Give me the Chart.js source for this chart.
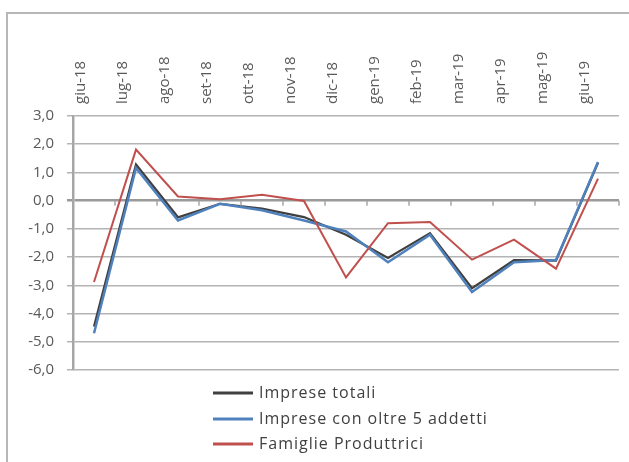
<!DOCTYPE html>
<html>
<head>
<meta charset="utf-8">
<script src="https://cdn.jsdelivr.net/npm/chart.js@4.4.0/dist/chart.umd.min.js"></script>
<style>
  html, body { margin: 0; padding: 0; background: #fff; overflow: hidden; }
  #frame { position: absolute; left: 6px; top: 12px; width: 640px; height: 480px; border: 2px solid #b7b7b7; }
  #wrap { position: absolute; left: 0; top: 0; width: 629px; height: 462px; }
</style>
</head>
<body>
<div id="frame"></div>
<div id="wrap"><canvas id="chart" width="629" height="462"></canvas></div>
<script>
const months = ['giu-18','lug-18','ago-18','set-18','ott-18','nov-18','dic-18','gen-19','feb-19','mar-19','apr-19','mag-19','giu-19'];
const impreseTotali = [-4.46, 1.28, -0.59, -0.11, -0.28, -0.58, -1.21, -2.03, -1.15, -3.10, -2.11, -2.12, 1.34];
const impreseOltre5 = [-4.70, 1.16, -0.70, -0.11, -0.34, -0.70, -1.09, -2.18, -1.21, -3.24, -2.18, -2.10, 1.37];
const famiglie      = [-2.88, 1.81, 0.15, 0.05, 0.21, -0.01, -2.72, -0.80, -0.76, -2.09, -1.38, -2.41, 0.78];
const yTicks = [3, 2, 1, 0, -1, -2, -3, -4, -5, -6];

const fontFamily = "'Open Sans', 'Liberation Sans', sans-serif";
const textColor = '#595959';

// small tick marks on the zero line between categories
const zeroTicks = {
  id: 'zeroTicks',
  afterDatasetsDraw(chart) {
    const { ctx } = chart;
    const x = chart.scales.x, y = chart.scales.y;
    const y0 = y.getPixelForValue(0);
    const half = (x.getPixelForValue(1) - x.getPixelForValue(0)) / 2;
    ctx.save();
    ctx.strokeStyle = '#a6a6a6';
    ctx.lineWidth = 1.5;
    for (let i = 0; i < months.length; i++) {
      const px = x.getPixelForValue(i) + half;
      ctx.beginPath();
      ctx.moveTo(px, y0);
      ctx.lineTo(px, y0 + 5);
      ctx.stroke();
    }
    ctx.restore();
  }
};

// vertical legend under the plot
const stackedLegend = {
  id: 'stackedLegend',
  afterDraw(chart) {
    const { ctx } = chart;
    const rows = [393, 419, 444];
    ctx.save();
    ctx.font = '16px ' + fontFamily;
    ctx.letterSpacing = '1px';
    ctx.textBaseline = 'middle';
    ctx.fillStyle = '#404040';
    chart.data.datasets.forEach((ds, i) => {
      ctx.strokeStyle = ds.borderColor;
      ctx.lineWidth = 3;
      ctx.beginPath();
      ctx.moveTo(213, rows[i]);
      ctx.lineTo(253, rows[i]);
      ctx.stroke();
      ctx.fillText(ds.label, 259, rows[i]);
    });
    ctx.restore();
  }
};

new Chart(document.getElementById('chart'), {
  type: 'line',
  data: {
    labels: months,
    datasets: [
      { label: 'Imprese totali', data: impreseTotali, borderColor: '#404040', borderWidth: 2.25, order: 3 },
      { label: 'Imprese con oltre 5 addetti', data: impreseOltre5, borderColor: '#4f81bd', borderWidth: 2.5, order: 2 },
      { label: 'Famiglie Produttrici', data: famiglie, borderColor: '#c0504d', borderWidth: 2, order: 1 },
    ],
  },
  options: {
    responsive: false,
    animation: false,
    events: [],
    elements: { point: { radius: 0 }, line: { tension: 0, fill: false } },
    layout: { padding: { left: 0, right: 10, top: 0, bottom: 92 } },
    plugins: { legend: { display: false }, tooltip: { enabled: false } },
    scales: {
      x: {
        position: 'top',
        offset: true,
        afterFit: s => { s.height = 116; },
        grid: { display: false, drawTicks: false },
        border: { display: false },
        ticks: {
          minRotation: 90, maxRotation: 90, padding: 12, labelOffset: 5,
          color: textColor, font: { family: fontFamily, size: 15 },
        },
      },
      y: {
        min: -6, max: 3,
        afterFit: s => { s.width = 73; },
        afterBuildTicks: s => { s.ticks = yTicks.map(v => ({ value: v })); },
        border: { display: true, color: '#a6a6a6', width: 2.5 },
        grid: {
          color: c => c.tick && c.tick.value === 0 ? '#9a9a9a' : '#b4b4b4',
          lineWidth: c => c.tick && c.tick.value === 0 ? 2.5 : 1.5,
          tickLength: 6,
        },
        ticks: {
          padding: 13,
          color: textColor,
          font: { family: fontFamily, size: 15 },
          callback: v => v.toFixed(1).replace('.', ','),
        },
      },
    },
  },
  plugins: [zeroTicks, stackedLegend],
});
</script>
</body>
</html>
